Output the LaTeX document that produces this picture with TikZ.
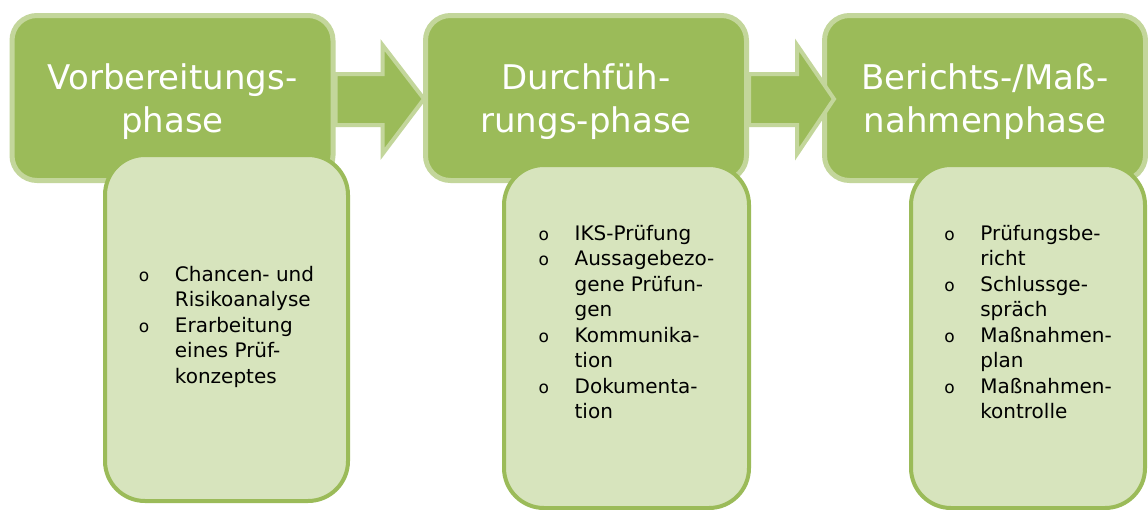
\documentclass[tikz,border=0pt]{standalone}
\usepackage{fontspec}
\setmainfont{DejaVu Sans}
\usetikzlibrary{positioning, calc}

\definecolor{phasegreen}{HTML}{9BBB59}
\definecolor{phaseedge}{HTML}{C3D69B}
\definecolor{listfill}{HTML}{D7E4BD}

\newcommand{\bul}{\makebox[36pt][l]{\fontsize{17pt}{17pt}\selectfont o}}
\newcommand{\cont}{\hspace*{36pt}}

\begin{document}
\begin{tikzpicture}[x=1pt, y=-1pt,
  phase/.style={draw=phaseedge, fill=phasegreen, line width=5pt, rounded corners=25pt,
                minimum width=321pt, minimum height=165pt},
  phaselabel/.style={text=white, align=center, inner sep=0pt,
                     font=\fontsize{34pt}{43pt}\selectfont},
  flowarrow/.style={draw=phaseedge, fill=phasegreen, line width=4pt},
  listbox/.style={draw=phasegreen, fill=listfill, line width=4pt, rounded corners=40pt},
  items/.style={anchor=north, align=left, inner sep=0pt,
                font=\fontsize{20pt}{25.5pt}\selectfont}]
  \useasboundingbox[fill=white] (0,0) rectangle (1148,509);

  % phases
  \node[phase] (prep) at (172.5,98) {};
  \node[phase] (exec) at (586,98) {};
  \node[phase] (report) at (985,98) {};
  \node[phaselabel] at ([yshift=-4pt]prep.center) {Vorbereitungs-\\phase};
  \node[phaselabel] at ([yshift=-4pt]exec.center) {Durchfüh-\\rungs-phase};
  \node[phaselabel] at ([yshift=-4pt]report.center) {Berichts-/Maß-\\nahmenphase};

  % arrows
  \draw[flowarrow] ($(prep.east)+(0,-24)$) -- ($(prep.east)+(47,-24)$)
    -- ($(prep.east)+(47,-53)$) -- ($(exec.west)+(1,1)$) -- ($(prep.east)+(47,56)$)
    -- ($(prep.east)+(47,27)$) -- ($(prep.east)+(0,27)$) -- cycle;
  \draw[flowarrow] ($(exec.east)+(0,-24)$) -- ($(exec.east)+(48,-24)$)
    -- ($(exec.east)+(48,-53)$) -- ($(report.west)+(12,1)$) -- ($(exec.east)+(48,56)$)
    -- ($(exec.east)+(48,27)$) -- ($(exec.east)+(0,27)$) -- cycle;

  % lists
  \node[listbox, minimum width=243pt, minimum height=346pt] (prepList) at (226.5,328) {};
  \node[listbox, minimum width=245pt, minimum height=343pt] (execList) at (626.5,336.5) {};
  \node[listbox, minimum width=234pt, minimum height=343pt] (reportList) at (1028,336.5) {};

  \node[items] at ([yshift=-113pt]prepList.north)
    {\bul Chancen- und\\ \cont Risikoanalyse\\ \bul Erarbeitung\\ \cont eines Prüf-\\ \cont konzeptes};
  \node[items] at ([yshift=-62pt]execList.north)
    {\bul IKS-Prüfung\\ \bul Aussagebezo-\\ \cont gene Prüfun-\\ \cont gen\\
     \bul Kommunika-\\ \cont tion\\ \bul Dokumenta-\\ \cont tion};
  \node[items] at ([yshift=-62pt]reportList.north)
    {\bul Prüfungsbe-\\ \cont richt\\ \bul Schlussge-\\ \cont spräch\\
     \bul Maßnahmen-\\ \cont plan\\ \bul Maßnahmen-\\ \cont kontrolle};
\end{tikzpicture}
\end{document}
